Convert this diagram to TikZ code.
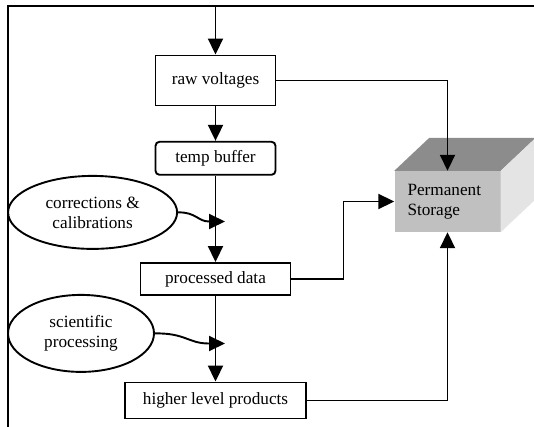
\documentclass[tikz,border=0pt]{standalone}
\usepackage{fontspec}
\setmainfont{Liberation Serif}
\usetikzlibrary{arrows.meta,shapes.geometric}
\definecolor{storfront}{HTML}{C0C0C0}
\definecolor{stortop}{HTML}{8C8C8C}
\definecolor{storside}{HTML}{E4E4E4}
\begin{document}
\begin{tikzpicture}[x=1pt,y=-1pt,
  every node/.style={font=\fontsize{17.2}{20}\selectfont},
  box/.style={draw,line width=1.9pt,rectangle,inner sep=0pt},
  oval/.style={draw,line width=1.9pt,ellipse,inner sep=0pt,align=center},
  conn/.style={line width=1.9pt,-{Triangle[length=16pt,width=15pt]}},
  plainline/.style={line width=1.9pt}]
\useasboundingbox (0,0) rectangle (534,427);
% frame
\coordinate (fbl) at (8,427);
\coordinate (ftl) at (8,6);
\coordinate (ftr) at (534,6);
\draw[plainline] (fbl) -- (ftl) -- (ftr);
\coordinate (in) at (215.5,6);
% nodes
\node[box,minimum width=120pt,minimum height=50pt] (raw) at (215.5,80.5) {raw voltages};
\node[box,rounded corners=4pt,minimum width=120pt,minimum height=33pt] (tb) at (215.5,158.3) {temp buffer};
\node[box,minimum width=150pt,minimum height=32pt] (pd) at (215.5,279) {processed data};
\node[box,minimum width=181pt,minimum height=36pt] (hl) at (215.5,400.5) {higher level products};
\node[oval,minimum width=169pt,minimum height=73pt] (e1) at (92.6,212.4) {corrections \&\\calibrations};
\node[oval,minimum width=146pt,minimum height=77pt] (e2) at (81,333.4) {scientific\\processing};
% storage box
\node[fill=storfront,inner ysep=0pt,inner xsep=13pt,minimum width=106pt,minimum height=61pt,text width=80pt,align=left] (st) at (447.5,201.5) {Permanent\\Storage};
\fill[stortop] (st.north west) -- ++(35,-33) -- ([shift={(35,-33)}]st.north east) -- (st.north east) -- cycle;
\fill[storside] (st.north east) -- ++(35,-33) -- ([shift={(35,-33)}]st.south east) -- (st.south east) -- cycle;
% connectors
\draw[conn] (in) -- (raw.north);
\draw[conn] (raw.south) -- (tb.north);
\draw[conn] (tb.south) -- (pd.north);
\draw[conn] (pd.south) -- (hl.north);
\draw[conn] (raw.east) -| (st.north);
\draw[conn] (pd.east) -- ++(52,0) |- (st.west);
\draw[conn] (hl.east) -| (st.south);
\draw[conn] (e1.east) .. controls (196,212) and (198,221.5) .. (209,221.5) -- (225,221.5);
\draw[conn] (e2.east) .. controls (186,333) and (188,343.5) .. (209,343.5) -- (225,343.5);
\end{tikzpicture}
\end{document}
